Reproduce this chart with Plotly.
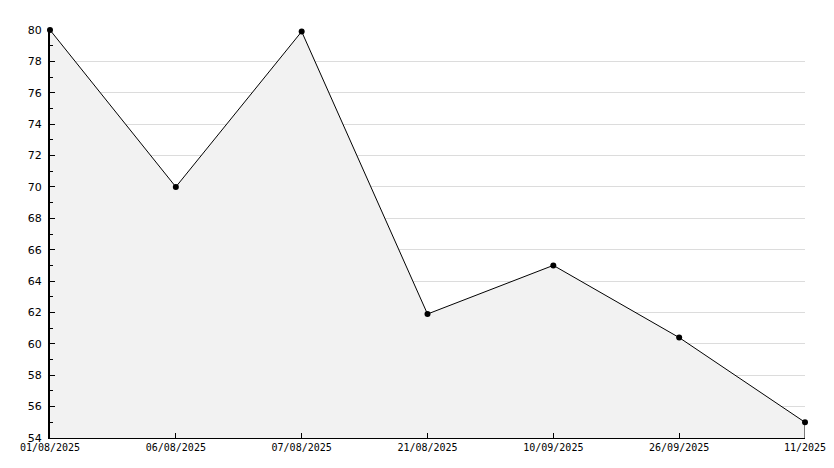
import plotly.graph_objects as go

categories = ["01/08/2025", "06/08/2025", "07/08/2025", "21/08/2025", "10/09/2025", "26/09/2025", "11/2025"]
values = [80.0, 70.0, 79.9, 61.9, 65.0, 60.4, 55.0]
y_min, y_max = 54, 80

fig = go.Figure()
fig.add_trace(go.Scatter(
    x=categories, y=values, mode="lines+markers",
    fill="tozeroy", fillcolor="#f2f2f2",
    line=dict(color="black", width=1),
    marker=dict(color="black", size=6, symbol="circle"),
    cliponaxis=False,
    hoverinfo="x+y",
))
# vertical edge at the last point down to the axis
fig.add_trace(go.Scatter(
    x=[categories[-1], categories[-1]], y=[values[-1], y_min],
    mode="lines", line=dict(color="black", width=1), hoverinfo="skip",
    cliponaxis=False,
))

# page body has an 8px default margin, so the figure is sized/offset to compensate
fig.update_layout(
    width=826, height=460,
    margin=dict(l=42, r=29, t=22, b=30, autoexpand=False),
    paper_bgcolor="white", plot_bgcolor="white",
    showlegend=False,
    font=dict(family="DejaVu Sans", size=11, color="black"),
)
fig.update_xaxes(
    type="category", range=[0, len(categories) - 1],
    automargin=False,
    showgrid=False, zeroline=False,
    showline=True, linecolor="black", linewidth=1,
    ticks="inside", ticklen=5, tickcolor="black",
    tickfont=dict(family="DejaVu Sans Mono", size=10),
)
fig.update_yaxes(
    range=[y_min, y_max], tick0=54, dtick=2,
    automargin=False,
    showgrid=True, gridcolor="#dcdcdc", gridwidth=1,
    zeroline=False,
    showline=True, linecolor="black", linewidth=2,
    ticks="inside", ticklen=5, tickcolor="black",
    ticklabelstandoff=4,
    minor=dict(ticks="inside", ticklen=3, dtick=1, tick0=54, tickcolor="black", showgrid=False),
    tickfont=dict(family="DejaVu Sans", size=11),
)

fig.write_html("out.html")
